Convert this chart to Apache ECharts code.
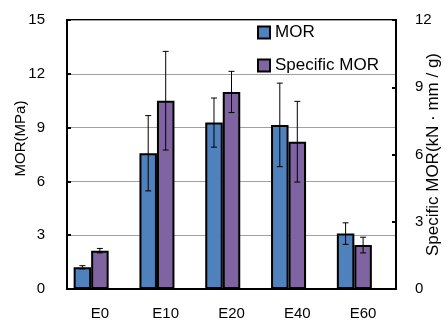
<!DOCTYPE html>
<html><head><meta charset="utf-8">
<script src="https://cdn.jsdelivr.net/npm/echarts@6/dist/echarts.min.js"></script>
<style>html,body{margin:0;padding:0;background:#fff}#c{width:448px;height:321px}</style>
</head><body><div id="c"></div>
<script>
var categories = ['E0', 'E10', 'E20', 'E40', 'E60'];
var morValues = [1.21, 7.57, 9.28, 9.15, 3.09];
var morErrors = [0.09, 2.10, 1.37, 2.33, 0.60];
var specificValues = [1.71, 8.40, 8.79, 6.57, 1.96];
var specificErrors = [0.10, 2.20, 0.92, 1.80, 0.35];
var leftTicks = [0, 3, 6, 9, 12, 15];
var rightTicks = [0, 3, 6, 9, 12];

var FONT = 'Liberation Sans';
var BAR_FRAC = 0.266;

function errSeries(name, values, errors, yIdx, slot) {
  return {
    type: 'custom', name: name + ' err', yAxisIndex: yIdx, silent: true, z: 5,
    data: values.map(function (v, i) { return [i, v - errors[i], v + errors[i]]; }),
    renderItem: function (params, api) {
      var band = api.size([1, 0])[0];
      var off = slot * band * BAR_FRAC;
      var lo = api.coord([api.value(0), api.value(1)]);
      var hi = api.coord([api.value(0), api.value(2)]);
      var x = lo[0] + off;
      var cap = 3;
      var st = { stroke: '#000', lineWidth: 1 };
      return { type: 'group', children: [
        { type: 'line', shape: { x1: x, y1: lo[1], x2: x, y2: hi[1] }, style: st },
        { type: 'line', shape: { x1: x - cap, y1: lo[1], x2: x + cap, y2: lo[1] }, style: st },
        { type: 'line', shape: { x1: x - cap, y1: hi[1], x2: x + cap, y2: hi[1] }, style: st }
      ]};
    }
  };
}

var chart = echarts.init(document.getElementById('c'));
chart.setOption({
  animation: false,
  textStyle: { fontFamily: FONT },
  grid: { left: 67, right: 52, top: 20, bottom: 32, show: true, borderColor: '#000', borderWidth: 2,
          containLabel: false, outerBoundsMode: 'none' },
  legend: {
    data: ['MOR', 'Specific MOR'], orient: 'vertical', left: 252, top: 19,
    itemWidth: 12, itemHeight: 12, itemGap: 16, icon: 'rect',
    textStyle: { fontSize: 17, color: '#000', fontFamily: FONT }
  },
  xAxis: {
    type: 'category', data: categories,
    axisLine: { lineStyle: { color: '#000', width: 2 } },
    axisTick: { inside: true, length: 4, lineStyle: { color: '#000', width: 2 } },
    axisLabel: { fontSize: 15, color: '#000', margin: 17, fontFamily: FONT }
  },
  yAxis: [{
    type: 'value', min: leftTicks[0], max: leftTicks[leftTicks.length - 1], interval: 3,
    name: 'MOR(MPa)', nameLocation: 'middle', nameGap: 39, nameRotate: 90, nameMoveOverlap: false,
    nameTextStyle: { fontSize: 15, color: '#000', fontFamily: FONT, padding: [0, 0, 0, 32] },
    axisLine: { show: true, lineStyle: { color: '#000', width: 2 } },
    axisTick: { show: true, inside: true, length: 4, lineStyle: { color: '#000', width: 2 } },
    axisLabel: { fontSize: 15, color: '#000', margin: 22, fontFamily: FONT },
    splitLine: { lineStyle: { color: '#a0a0a0', width: 1 } }
  }, {
    type: 'value', min: rightTicks[0], max: rightTicks[rightTicks.length - 1], interval: 3,
    position: 'right',
    name: 'Specific MOR(kN · mm / g)', nameLocation: 'middle', nameGap: 29, nameRotate: 90, nameMoveOverlap: false,
    nameTextStyle: { fontSize: 17, color: '#000', fontFamily: FONT, padding: [0, 0, 0, 0] },
    axisLine: { show: true, lineStyle: { color: '#000', width: 2 } },
    axisTick: { show: true, inside: true, length: 4, lineStyle: { color: '#000', width: 2 } },
    axisLabel: { fontSize: 15, color: '#000', margin: 19, fontFamily: FONT },
    splitLine: { show: false }
  }],
  series: [
    { type: 'bar', name: 'MOR', data: morValues, yAxisIndex: 0, barWidth: (BAR_FRAC * 100) + '%', barGap: '0%',
      itemStyle: { color: '#4F81BD', borderColor: '#000', borderWidth: 2 } },
    { type: 'bar', name: 'Specific MOR', data: specificValues, yAxisIndex: 1, barWidth: (BAR_FRAC * 100) + '%', barGap: '0%',
      itemStyle: { color: '#8064A2', borderColor: '#000', borderWidth: 2 } },
    { type: 'bar', name: 'spacer', data: categories.map(function () { return null; }), yAxisIndex: 0,
      barWidth: (BAR_FRAC * 100) + '%', barGap: '0%' },
    errSeries('MOR', morValues, morErrors, 0, -1),
    errSeries('Specific MOR', specificValues, specificErrors, 1, 0)
  ]
});
</script></body></html>
